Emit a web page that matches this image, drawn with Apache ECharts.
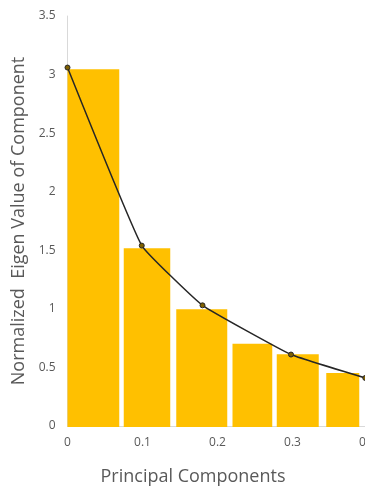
<!DOCTYPE html>
<html>
<head>
<meta charset="utf-8">
<script src="https://cdn.jsdelivr.net/npm/echarts@6/dist/echarts.min.js"></script>
<style>
  html, body { margin: 0; padding: 0; background: #fff; }
  #chart { width: 365px; height: 488px; }
</style>
</head>
<body>
<div id="chart"></div>
<script>
// bar spans on the x axis and their heights
const barStart = [0, 0.075, 0.145, 0.220, 0.279, 0.345]
const barEnd = [0.069, 0.137, 0.213, 0.273, 0.335, 0.389]
const barValues = [3.045, 1.517, 0.996, 0.703, 0.612, 0.452]

// eigen value curve points
const lineX = [0, 0.099, 0.180, 0.298, 0.397]
const lineY = [3.06, 1.54, 1.03, 0.61, 0.41]

const yTitle = 'Normalized  Eigen Value of Component'
const xTitle = 'Principal Components'

const textColor = '#595959'
const fontFamily = 'Open Sans, Noto Sans, sans-serif'

const chart = echarts.init(document.getElementById('chart'))

const option = {
  animation: false,
  grid: {left: 67.5, top: 16, width: 300, height: 410, containLabel: false, outerBoundsMode: 'none'},
  xAxis: {
    type: 'value',
    min: 0,
    max: 0.4,
    interval: 0.1,
    axisLine: {show: true, lineStyle: {color: '#d9d9d9', width: 1}},
    axisTick: {show: false},
    splitLine: {show: false},
    axisLabel: {color: textColor, fontSize: 12, fontFamily: fontFamily, margin: 11, showMaxLabel: true}
  },
  yAxis: {
    type: 'value',
    min: 0,
    max: 3.5,
    interval: 0.5,
    name: yTitle,
    nameLocation: 'middle',
    nameGap: 36,
    nameTextStyle: {color: textColor, fontSize: 18, fontFamily: fontFamily},
    axisLine: {show: true, lineStyle: {color: '#d9d9d9', width: 1}},
    axisTick: {show: false},
    splitLine: {show: false},
    axisLabel: {color: textColor, fontSize: 12, fontFamily: fontFamily, margin: 12}
  },
  graphic: [{
    type: 'text',
    x: 193,
    y: 477,
    style: {text: xTitle, fill: textColor, fontSize: 18, fontFamily: fontFamily, align: 'center', verticalAlign: 'middle'}
  }],
  series: [
    {
      type: 'custom',
      data: barValues.map((v, i) => [barStart[i], barEnd[i], v]),
      encode: {x: [0, 1], y: 2},
      z: 1,
      renderItem: (params, api) => {
        const p0 = api.coord([api.value(0), api.value(2)])
        const p1 = api.coord([api.value(1), 0])
        return {
          type: 'rect',
          shape: {x: p0[0], y: p0[1], width: p1[0] - p0[0], height: p1[1] - p0[1] + 1},
          style: {fill: '#ffc000'}
        }
      }
    },
    {
      type: 'line',
      data: lineX.map((x, i) => [x, lineY[i]]),
      smooth: 0.1,
      z: 3,
      symbol: 'circle',
      symbolSize: 5,
      lineStyle: {color: '#262626', width: 1.5},
      itemStyle: {color: '#7f6000', borderColor: '#262626', borderWidth: 1}
    }
  ]
}

chart.setOption(option)
</script>
</body>
</html>
